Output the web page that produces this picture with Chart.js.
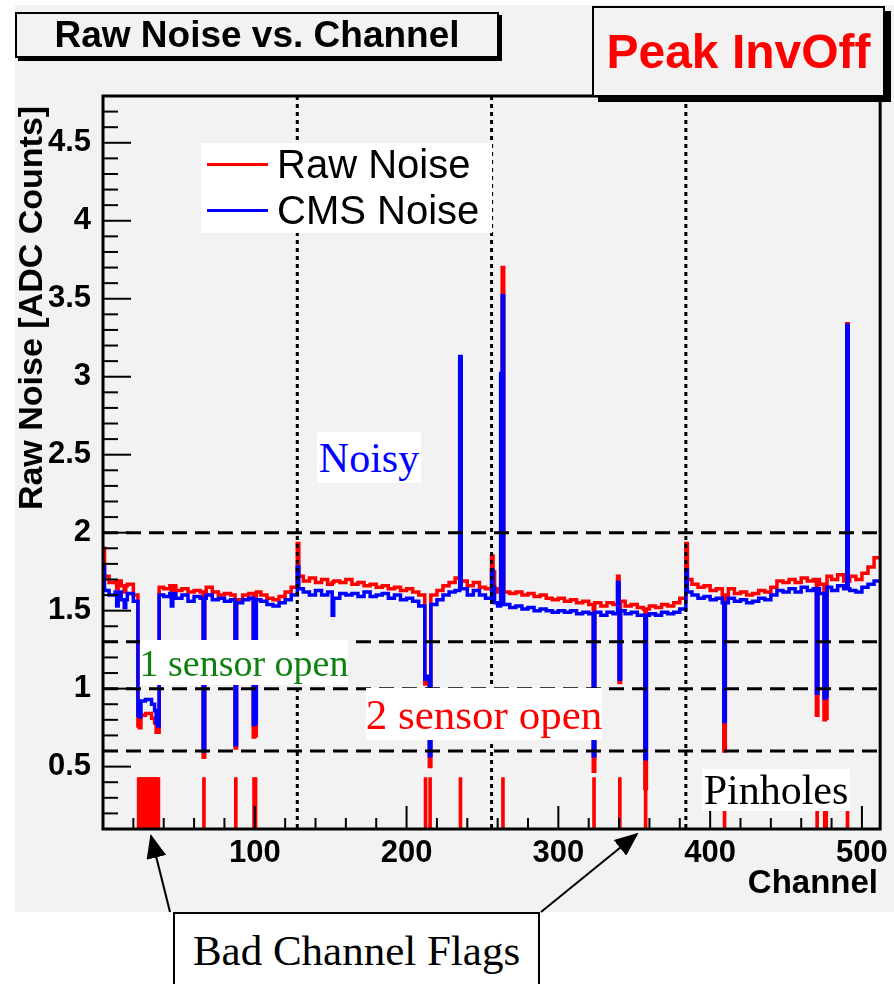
<!DOCTYPE html>
<html>
<head>
<meta charset="utf-8">
<title>Raw Noise vs. Channel</title>
<script src="https://cdn.jsdelivr.net/npm/chart.js@4.4.1/dist/chart.umd.min.js"></script>
<style>
  body { margin: 0; background: #fff; }
  #wrap { position: relative; width: 894px; height: 984px; overflow: hidden; font-family: "Liberation Sans", Arial, sans-serif; }
  #bg { position: absolute; left: 15px; top: 5px; width: 879px; height: 907px; background: #f2f2f2; }
  #chart { position: absolute; left: 0; top: 0; }
  .lbl { position: absolute; box-sizing: border-box; display: flex; align-items: center; justify-content: center; white-space: nowrap; }
  .serif { font-family: "Liberation Serif", "Times New Roman", serif; }
  .white { background: #fff; }
  svg { position: absolute; left: 0; top: 0; }
</style>
</head>
<body>
<div id="wrap">
  <div id="bg"></div>
  <canvas id="chart" width="894" height="984"></canvas>

  <div class="lbl" style="left:15px;top:12px;width:484px;height:46px;border:2px solid #000;box-shadow:3px 3px 0 #000;font-weight:bold;font-size:37px;">Raw Noise vs. Channel</div>
  <div class="lbl" style="left:592px;top:6px;width:293px;height:91px;border:2px solid #000;box-shadow:6px 5px 0 #000;background:#f2f2f2;font-weight:bold;font-size:48px;color:#f00;">Peak InvOff</div>

  <div class="lbl white" style="left:201px;top:143px;width:291px;height:90px;"></div>
  <div class="lbl" style="left:207px;top:163px;width:61px;height:3px;background:#f00;"></div>
  <div class="lbl" style="left:207px;top:209px;width:61px;height:3px;background:#00f;"></div>
  <div class="lbl" style="left:277px;top:144px;height:40px;font-size:40px;justify-content:flex-start;">Raw Noise</div>
  <div class="lbl" style="left:277px;top:190px;height:40px;font-size:40px;justify-content:flex-start;">CMS Noise</div>

  <div class="lbl white serif" style="left:317px;top:432px;width:104px;height:51px;font-size:42px;color:#00f;">Noisy</div>
  <div class="lbl white serif" style="left:140px;top:640px;width:208px;height:45px;font-size:38px;color:#108010;">1 sensor open</div>
  <div class="lbl white serif" style="left:366px;top:688px;width:236px;height:52px;font-size:43px;color:#f00;">2 sensor open</div>
  <div class="lbl white serif" style="left:702px;top:769px;width:148px;height:42px;font-size:42px;">Pinholes</div>
  <div class="lbl white serif" style="left:173px;top:912px;width:367px;height:90px;border:2px solid #000;font-size:43px;align-items:flex-start;padding-top:12px;">Bad Channel Flags</div>

  <div class="lbl" style="left:-170px;top:288px;width:400px;height:40px;font-weight:bold;font-size:34px;transform:rotate(-90deg);">Raw Noise [ADC Counts]</div>
  <div class="lbl" style="left:700px;top:863px;width:178px;height:38px;font-weight:bold;font-size:33px;justify-content:flex-end;">Channel</div>

  <svg width="894" height="984">
    <defs>
      <marker id="head" markerWidth="24" markerHeight="20" refX="22" refY="10" orient="auto" markerUnits="userSpaceOnUse">
        <path d="M0,0 L24,10 L0,20 z" fill="#000"/>
      </marker>
    </defs>
    <line x1="170" y1="912" x2="151" y2="836" stroke="#000" stroke-width="2" marker-end="url(#head)"/>
    <line x1="541" y1="912" x2="637" y2="834" stroke="#000" stroke-width="2" marker-end="url(#head)"/>
  </svg>
</div>

<script>
// raw noise, one value per group of 4 channels (128 groups)
const rawBase = [
  1.72, 1.68, 1.69, 1.66, 1.67, 1.60, 0.83, 0.84, 0.81, 1.65, 1.64, 1.66, 1.63, 1.64, 1.62, 1.63,
  1.62, 1.65, 1.62, 1.60, 1.61, 1.60, 1.57, 1.60, 1.61, 1.62, 1.60, 1.58, 1.57, 1.59, 1.62, 1.65,
  1.72, 1.69, 1.71, 1.68, 1.70, 1.67, 1.69, 1.68, 1.70, 1.67, 1.68, 1.66, 1.67, 1.65, 1.66, 1.64,
  1.65, 1.63, 1.64, 1.62, 1.60, 1.55, 1.60, 1.63, 1.66, 1.68, 1.71, 1.69, 1.66, 1.68, 1.65, 1.64,
  1.64, 1.62, 1.62, 1.61, 1.62, 1.60, 1.61, 1.59, 1.60, 1.58, 1.57, 1.58, 1.56, 1.57, 1.55, 1.56,
  1.54, 1.55, 1.53, 1.55, 1.54, 1.56, 1.53, 1.54, 1.52, 1.51, 1.53, 1.52, 1.54, 1.53, 1.55, 1.58,
  1.70, 1.67, 1.65, 1.66, 1.63, 1.64, 1.60, 1.64, 1.61, 1.62, 1.60, 1.61, 1.63, 1.62, 1.65, 1.69,
  1.68, 1.70, 1.68, 1.71, 1.69, 1.70, 1.67, 1.72, 1.70, 1.73, 1.69, 1.72, 1.70, 1.74, 1.78, 1.84
];
// CMS noise, same grouping
const cmsBase = [
  1.63, 1.60, 1.62, 1.57, 1.61, 1.56, 0.92, 0.93, 0.90, 1.60, 1.59, 1.61, 1.58, 1.60, 1.56, 1.59,
  1.58, 1.60, 1.57, 1.58, 1.56, 1.57, 1.55, 1.57, 1.58, 1.57, 1.56, 1.54, 1.53, 1.55, 1.57, 1.60,
  1.64, 1.62, 1.60, 1.63, 1.60, 1.62, 1.58, 1.61, 1.60, 1.61, 1.59, 1.62, 1.59, 1.60, 1.61, 1.58,
  1.60, 1.57, 1.58, 1.56, 1.53, 1.50, 1.54, 1.57, 1.60, 1.62, 1.63, 1.64, 1.60, 1.63, 1.60, 1.58,
  1.55, 1.53, 1.54, 1.52, 1.53, 1.51, 1.52, 1.50, 1.51, 1.50, 1.49, 1.50, 1.49, 1.50, 1.48, 1.49,
  1.48, 1.49, 1.47, 1.49, 1.48, 1.50, 1.48, 1.49, 1.47, 1.47, 1.48, 1.47, 1.49, 1.48, 1.49, 1.51,
  1.62, 1.60, 1.58, 1.59, 1.57, 1.58, 1.55, 1.58, 1.56, 1.57, 1.55, 1.56, 1.58, 1.57, 1.60, 1.63,
  1.62, 1.64, 1.62, 1.65, 1.63, 1.64, 1.61, 1.65, 1.63, 1.66, 1.64, 1.63, 1.62, 1.65, 1.67, 1.69
];
// single channels that stand out (dead, open, noisy)
const specialCh  = [0, 9, 14, 23, 24, 34, 35, 36, 45, 66, 87, 99, 100, 128, 151, 212, 213, 214, 215, 235, 256, 257, 262, 263, 323, 339, 340, 357, 384, 409, 470, 475, 476, 490];
const specialRaw = [1.90, 1.64, 1.62, 0.76, 0.75, 0.78, 0.72, 0.72, 1.62, 0.56, 0.62, 0.69, 0.70, 1.93, 1.68, 1.03, 1.04, 1.05, 0.50, 3.10, 1.85, 1.75, 3.00, 3.70, 0.47, 1.72, 1.04, 0.36, 1.93, 0.60, 0.83, 0.80, 0.81, 3.34];
const specialCms = [1.78, 1.53, 1.52, 0.83, 0.82, 0.86, 0.78, 0.76, 1.53, 0.60, 0.64, 0.77, 0.78, 1.78, 1.47, 1.06, 1.06, 1.08, 0.57, 3.13, 1.76, 1.65, 3.02, 3.52, 0.57, 1.68, 1.06, 0.55, 1.76, 0.79, 0.97, 0.94, 0.95, 3.33];
// bad channel flags
const flagCh = [23, 24, 25, 26, 27, 28, 29, 30, 31, 32, 33, 34, 35, 36, 66, 87, 99, 100, 212, 215, 235, 263, 323, 340, 357, 409, 470, 475, 476, 490];
const flagLevel = 0.43;

const cutLevels = [2.0, 1.3, 1.0, 0.6];   // dashed thresholds
const chipEdges = [128, 256, 384];        // dotted lines
const xTickValues = [100, 200, 300, 400, 500];
const yTickValues = [0.5, 1, 1.5, 2, 2.5, 3, 3.5, 4, 4.5];

const rawNoise = [], cmsNoise = [];
for (let c = 0; c < 512; c++) {
  rawNoise.push(rawBase[c >> 2]);
  cmsNoise.push(cmsBase[c >> 2]);
}
specialCh.forEach((c, i) => { rawNoise[c] = specialRaw[i]; cmsNoise[c] = specialCms[i]; });

const toSteps = arr => arr.map((v, c) => ({ x: c, y: v })).concat([{ x: 512, y: arr[511] }]);

const rootFrame = {
  id: 'rootFrame',
  afterDatasetsDraw(chart) {
    const ctx = chart.ctx, a = chart.chartArea;
    const xs = chart.scales.x, ys = chart.scales.y;
    ctx.save();
    ctx.strokeStyle = '#000';
    // dashed thresholds
    ctx.lineWidth = 3;
    ctx.setLineDash([15, 8]);
    cutLevels.forEach(v => {
      const py = ys.getPixelForValue(v);
      ctx.beginPath(); ctx.moveTo(a.left, py); ctx.lineTo(a.right, py); ctx.stroke();
    });
    // dotted chip boundaries
    ctx.setLineDash([4, 4]);
    chipEdges.forEach(v => {
      const px = xs.getPixelForValue(v);
      ctx.beginPath(); ctx.moveTo(px, a.top); ctx.lineTo(px, a.bottom); ctx.stroke();
    });
    ctx.setLineDash([]);
    // inner ticks
    ctx.lineWidth = 2;
    for (let i = 1; i <= 47; i++) {
      const v = i / 10;
      const py = ys.getPixelForValue(v);
      const len = (i % 5 === 0) ? 28 : 15;
      ctx.beginPath(); ctx.moveTo(a.left, py); ctx.lineTo(a.left + len, py); ctx.stroke();
    }
    for (let c = 20; c <= 500; c += 20) {
      const px = xs.getPixelForValue(c);
      const len = (c % 100 === 0) ? 23 : 11;
      ctx.beginPath(); ctx.moveTo(px, a.bottom); ctx.lineTo(px, a.bottom - len); ctx.stroke();
    }
    // frame
    ctx.lineWidth = 3;
    ctx.strokeRect(a.left, a.top, a.right - a.left, a.bottom - a.top);
    ctx.restore();
  }
};

const tickFont = { family: '"Liberation Sans", Arial, sans-serif', size: 31, weight: 'bold' };

new Chart(document.getElementById('chart'), {
  type: 'line',
  data: {
    datasets: [
      {
        label: 'CMS Noise', data: toSteps(cmsNoise), borderColor: '#0000ff', borderWidth: 3.5,
        stepped: true, pointRadius: 0, fill: false, order: 0
      },
      {
        label: 'Raw Noise', data: toSteps(rawNoise), borderColor: '#ff0000', borderWidth: 3.5,
        stepped: true, pointRadius: 0, fill: false, order: 1
      },
      {
        type: 'bar', label: 'Bad Channel Flags', data: flagCh.map(c => ({ x: c + 0.5, y: flagLevel })),
        backgroundColor: '#ff0000', barThickness: 3, order: 2
      }
    ]
  },
  options: {
    responsive: false,
    devicePixelRatio: 1,
    animation: false,
    layout: { padding: { top: 96, right: 9, left: 0, bottom: 0 } },
    plugins: { legend: { display: false }, tooltip: { enabled: false } },
    scales: {
      x: {
        type: 'linear', min: 0, max: 512, offset: false,
        grid: { display: false, drawTicks: false },
        border: { display: false },
        afterFit: s => { s.height = 155; },
        afterBuildTicks: s => { s.ticks = xTickValues.map(v => ({ value: v })); },
        ticks: { font: tickFont, color: '#000', padding: 6, maxRotation: 0, autoSkip: false, callback: v => String(v) }
      },
      y: {
        type: 'linear', min: 0.1, max: 4.8,
        grid: { display: false, drawTicks: false },
        border: { display: false },
        afterFit: s => { s.width = 103; },
        afterBuildTicks: s => { s.ticks = yTickValues.map(v => ({ value: v })); },
        ticks: { font: tickFont, color: '#000', padding: 12, autoSkip: false, callback: v => String(v) }
      }
    }
  },
  plugins: [rootFrame]
});
</script>
</body>
</html>
